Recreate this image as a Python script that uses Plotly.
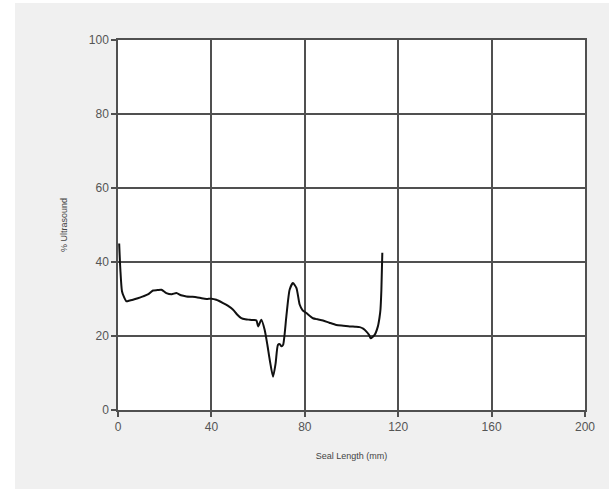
import plotly.graph_objects as go

seal_length = [0.5, 1.0, 1.7, 2.6, 3.6, 5.0, 6.4, 8.5, 10.7, 13.0, 15.0, 16.8, 18.6, 20.7, 23.0,
               25.0, 27.0, 29.3, 31.5, 33.6, 35.8, 37.9, 40.0, 42.1, 45.0, 47.0,
               49.3, 51.0, 52.8, 54.5, 56.4, 58.0, 59.3, 60.0, 61.4, 62.8, 64.0, 65.0, 66.4, 67.5,
               68.5, 69.3, 70.0, 70.7, 72.1, 73.5, 74.9, 76.4, 77.8, 79.0, 80.7, 83.5, 85.5,
               87.8, 90.5, 93.5, 96.5, 99.2, 101.5, 103.5, 105.0, 106.4, 107.5,
               108.2, 109.9, 111.3, 112.0, 112.4, 112.8, 113.2]
ultrasound = [45.0, 38.0, 32.1, 30.5, 29.4, 29.6, 29.8, 30.2, 30.7, 31.3, 32.3, 32.4, 32.5, 31.6, 31.3,
              31.6, 31.0, 30.7, 30.6, 30.5, 30.2, 30.0, 30.1, 29.8, 28.9, 28.2,
              27.1, 25.8, 24.8, 24.5, 24.4, 24.3, 24.2, 22.6, 24.4, 21.7, 17.5, 13.5, 9.0, 12.6,
              17.6, 17.8, 17.2, 17.6, 25.3, 32.5, 34.3, 33.0, 28.5, 27.0, 26.2, 24.8, 24.5,
              24.2, 23.6, 23.0, 22.8, 22.6, 22.5, 22.4, 22.0, 21.2, 20.3,
              19.4, 20.3, 22.6, 25.0, 27.1, 32.5, 42.5]

x_ticks = [0, 40, 80, 120, 160, 200]
y_ticks = [0, 20, 40, 60, 80, 100]

fig = go.Figure()
fig.add_trace(go.Scatter(x=seal_length, y=ultrasound, mode="lines",
                         line=dict(color="#111111", width=2, shape="spline", smoothing=0.6),
                         showlegend=False))

W, H = 609, 489
L, R, T, B = 118, 24, 40, 79
pw, ph = W - L - R, H - T - B

grid_col = "#505050"
fig.update_layout(
    width=W, height=H,
    margin=dict(l=L, r=R, t=T, b=B),
    paper_bgcolor="#f0f0f0",
    plot_bgcolor="#ffffff",
    font=dict(family="Liberation Sans, Arial, sans-serif", color="#555555"),
    shapes=[
        dict(type="rect", xref="paper", yref="paper", layer="below",
             x0=-L / pw, x1=(15 - L) / pw, y0=-B / ph - 0.1, y1=1 + T / ph + 0.1,
             fillcolor="#ffffff", line=dict(width=0)),
        dict(type="rect", xref="paper", yref="paper", layer="below",
             x0=-L / pw, x1=1 + R / pw + 0.1, y0=1 + (T - 3) / ph, y1=1 + T / ph + 0.1,
             fillcolor="#ffffff", line=dict(width=0)),
    ],
)
fig.update_xaxes(
    range=[0, 200], tickvals=x_ticks, ticktext=[str(v) for v in x_ticks],
    showgrid=True, gridcolor=grid_col, gridwidth=1.5, zeroline=False,
    showline=True, linecolor=grid_col, linewidth=1.5, mirror=True,
    ticks="outside", ticklen=5, tickcolor=grid_col, tickwidth=1.5,
    tickfont=dict(size=12, color="#555555"),
    title=dict(text="Seal Length (mm)", font=dict(size=9, color="#444444"), standoff=20),
)
fig.update_yaxes(
    range=[0, 100], tickvals=y_ticks, ticktext=[str(v) for v in y_ticks],
    showgrid=True, gridcolor=grid_col, gridwidth=1.5, zeroline=False,
    showline=True, linecolor=grid_col, linewidth=1.5, mirror=True,
    ticks="outside", ticklen=5, tickcolor=grid_col, tickwidth=1.5,
    tickfont=dict(size=12, color="#555555"),
    title=dict(text="% Ultrasound", font=dict(size=9, color="#444444"), standoff=20),
)

fig.write_html("out.html")
